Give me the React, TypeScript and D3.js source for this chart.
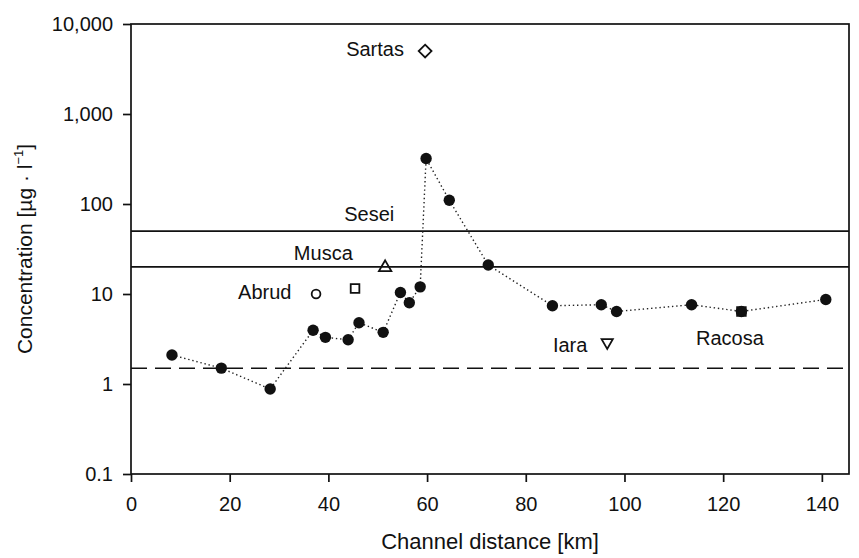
import { useEffect, useRef } from 'react'
import * as d3 from 'd3'

// main series: channel distance [km] vs concentration
const distance = [8.3, 18.3, 28.2, 36.9, 39.4, 44.0, 46.2, 51.1, 54.6, 56.4, 58.6, 59.8, 64.5, 72.4, 85.4, 95.3, 98.4, 113.6, 123.7, 140.8]
const concentration = [2.1, 1.5, 0.88, 3.95, 3.3, 3.1, 4.8, 3.75, 10.4, 8.0, 12, 320, 110, 21, 7.4, 7.6, 6.4, 7.6, 6.4, 8.7]

// tributaries (open markers)
const tribDistance = [59.6, 37.5, 45.4, 51.5, 96.5, 123.7]
const tribConc = [5000, 10, 11.5, 19.7, 2.9, 6.4]
const tribShape = ['diamond', 'circle', 'square', 'triangle', 'down', 'square']

// reference levels
const levelValues = [50, 20]
const baseline = 1.5

// annotation text and anchor (left/baseline) in data units
const labelText = ['Sartas', 'Sesei', 'Musca', 'Abrud', 'Iara', 'Racosa']
const labelX = [43.6, 43.2, 33.0, 21.7, 85.5, 114.5]
const labelY = [4400, 64.7, 23.9, 8.8, 2.27, 2.71]

const xTicks = [0, 20, 40, 60, 80, 100, 120, 140]
const yTicks = [0.1, 1, 10, 100, 1000, 10000]

export default function App() {
  const svgRef = useRef<SVGSVGElement>(null)

  useEffect(() => {
    if (!svgRef.current) return
    const svg = d3.select(svgRef.current)
    svg.selectAll('*').remove()

    const W = 859, H = 558
    const margin = { top: 24, right: 10, bottom: 84, left: 131 }
    const width = W - margin.left - margin.right
    const height = H - margin.top - margin.bottom
    const font = '"Liberation Sans", Arial, sans-serif'

    svg.attr('width', W).attr('height', H)
    const g = svg.append('g').attr('transform', `translate(${margin.left},${margin.top})`)

    const x = d3.scaleLinear().domain([0, 145.5]).range([0, width])
    const y = d3.scaleLog().domain([0.1, 10000]).range([height, 0])

    // frame
    g.append('rect')
      .attr('x', 0).attr('y', 0).attr('width', width).attr('height', height)
      .attr('fill', 'none').attr('stroke', '#111').attr('stroke-width', 1.7)

    const xAxis = g.append('g')
      .attr('transform', `translate(0,${height})`)
      .call(d3.axisBottom(x).tickValues(xTicks).tickSize(8).tickPadding(15).tickFormat(d3.format('d')))
    const yAxis = g.append('g')
      .call(d3.axisLeft(y).tickValues(yTicks).tickSize(8).tickPadding(10)
        .tickFormat(d => d3.format(',')(+d)))

    ;[xAxis, yAxis].forEach(a => {
      a.select('.domain').remove()
      a.selectAll('.tick line').attr('stroke', '#111').attr('stroke-width', 1.7)
      a.selectAll('.tick text')
        .style('font-family', font).style('font-size', '20px').attr('fill', '#111')
    })

    // horizontal levels
    g.selectAll('.level')
      .data(levelValues)
      .enter().append('line')
      .attr('x1', 0).attr('x2', width)
      .attr('y1', d => y(d)).attr('y2', d => y(d))
      .attr('stroke', '#111').attr('stroke-width', 1.7)

    g.append('line')
      .attr('x1', 0).attr('x2', width)
      .attr('y1', y(baseline)).attr('y2', y(baseline))
      .attr('stroke', '#111').attr('stroke-width', 1.5)
      .attr('stroke-dasharray', '16,8')

    const pts = distance.map((d, i) => ({ d, c: concentration[i] }))

    const line = d3.line<{ d: number, c: number }>()
      .x(p => x(p.d))
      .y(p => y(p.c))

    g.append('path')
      .datum(pts)
      .attr('fill', 'none')
      .attr('stroke', '#222')
      .attr('stroke-width', 1.4)
      .attr('stroke-dasharray', '1.4,2.8')
      .attr('d', line)

    g.selectAll('.dot')
      .data(pts)
      .enter().append('circle')
      .attr('cx', p => x(p.d))
      .attr('cy', p => y(p.c))
      .attr('r', 5.7)
      .attr('fill', '#111')

    const symbols: Record<string, d3.SymbolType> = {
      diamond: d3.symbolDiamond2,
      circle: d3.symbolCircle,
      square: d3.symbolSquare2,
      triangle: d3.symbolTriangle2,
      down: d3.symbolTriangle2,
    }
    const sizes: Record<string, number> = { diamond: 105, circle: 60, square: 95, triangle: 110, down: 90 }

    tribShape.forEach((s, i) => {
      const sym = d3.symbol().type(symbols[s]).size(sizes[s])
      const rot = s === 'down' ? 180 : 0
      g.append('path')
        .attr('d', sym()!)
        .attr('transform', `translate(${x(tribDistance[i])},${y(tribConc[i])}) rotate(${rot})`)
        .attr('fill', 'none')
        .attr('stroke', '#111')
        .attr('stroke-width', 1.8)
    })

    // annotations
    g.selectAll('.lab')
      .data(labelText)
      .enter().append('text')
      .attr('x', (_, i) => x(labelX[i]))
      .attr('y', (_, i) => y(labelY[i]))
      .style('font-family', font)
      .style('font-size', '20px')
      .attr('fill', '#111')
      .text(t => t)

    // axis titles
    svg.append('text')
      .attr('x', margin.left + width / 2)
      .attr('y', 549)
      .attr('text-anchor', 'middle')
      .style('font-family', font).style('font-size', '22px').attr('fill', '#111')
      .text('Channel distance [km]')

    const yt = svg.append('text')
      .attr('transform', `translate(32,${margin.top + height / 2}) rotate(-90)`)
      .attr('text-anchor', 'middle')
      .style('font-family', font).style('font-size', '21px').attr('fill', '#111')
    yt.append('tspan').text('Concentration [µg · l')
    yt.append('tspan').attr('dy', -9).style('font-size', '13px').text('−1')
    yt.append('tspan').attr('dy', 9).text(']')
  }, [])

  return (
    <div style={{ position: 'fixed', left: 0, top: 0, background: '#fff' }}>
      <svg ref={svgRef} style={{ display: 'block' }}></svg>
    </div>
  )
}
